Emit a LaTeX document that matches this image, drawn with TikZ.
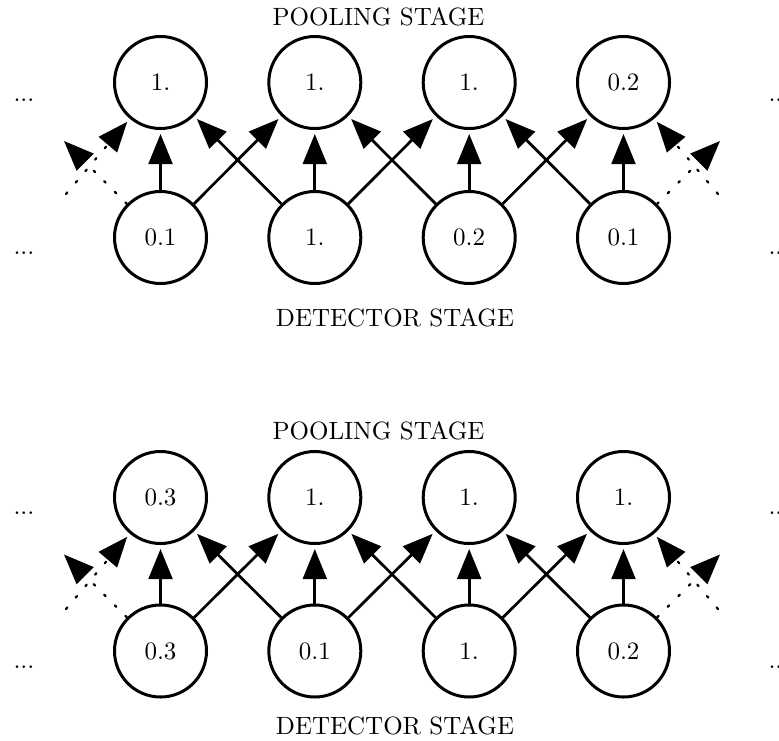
\documentclass[tikz,border=0pt]{standalone}
\usetikzlibrary{arrows.meta,calc}
\begin{document}
\begin{tikzpicture}[x=0.4pt,y=-0.4pt,
  unit/.style={circle,draw,line width=1.2pt,minimum size=36.8pt,inner sep=0pt},
  link/.style={line width=1.1pt,-{Triangle[length=12pt,width=9.5pt]},shorten >=1.6pt},
  dotlink/.style={line width=0.9pt,line cap=round,dash pattern=on 0.8pt off 5.2pt,-{Triangle[length=12pt,width=9.5pt]}},
  lbl/.style={inner sep=0pt},
  dots/.style={anchor=base west,inner sep=0pt}]
\useasboundingbox (0,0) rectangle (779,740);

% ---------- first diagram ----------
\node[lbl] (pool1) at (378.5,16.5) {POOLING STAGE};
\node[lbl] (det1) at (395,318) {DETECTOR STAGE};
\node[unit] (t1) at (160.5,82.5) {1.};
\node[unit] (t2) at (314.8,82.5) {1.};
\node[unit] (t3) at (469.2,82.5) {1.};
\node[unit] (t4) at (623.5,82.5) {0.2};
\node[unit] (b1) at (160.5,237.5) {0.1};
\node[unit] (b2) at (314.8,237.5) {1.};
\node[unit] (b3) at (469.2,237.5) {0.2};
\node[unit] (b4) at (623.5,237.5) {0.1};
\node[dots] (dtl1) at (13,101.3) {...};
\node[dots] (dbl1) at (13,254.3) {...};
\node[dots] (dtr1) at (768,101.3) {...};
\node[dots] (dbr1) at (768,254.3) {...};
\foreach \i in {1,...,4} {\draw[link] (b\i) -- (t\i);}
\foreach \i/\j in {1/2,2/3,3/4} {\draw[link] (b\i) -- (t\j); \draw[link] (b\j) -- (t\i);}
\coordinate (lA1) at ($(b1)+(-96.5,-96.5)$);
\coordinate (lB1) at ($(t1)+(-94.5,111.5)$);
\coordinate (rA1) at ($(b4)+(96.5,-96.5)$);
\coordinate (rB1) at ($(t4)+(94.5,111.5)$);
\draw[dotlink] (b1.135) -- (lA1);
\draw[dotlink,shorten >=1.6pt] (lB1) -- (t1);
\draw[dotlink] (b4.45) -- (rA1);
\draw[dotlink,shorten >=1.6pt] (rB1) -- (t4);

% ---------- second diagram ----------
\node[lbl] (pool2) at (378.5,431) {POOLING STAGE};
\node[lbl] (det2) at (395,726) {DETECTOR STAGE};
\node[unit] (u1) at (160.5,497.5) {0.3};
\node[unit] (u2) at (314.8,497.5) {1.};
\node[unit] (u3) at (469.2,497.5) {1.};
\node[unit] (u4) at (623.5,497.5) {1.};
\node[unit] (c1) at (160.5,651) {0.3};
\node[unit] (c2) at (314.8,651) {0.1};
\node[unit] (c3) at (469.2,651) {1.};
\node[unit] (c4) at (623.5,651) {0.2};
\node[dots] (dtl2) at (13,514.3) {...};
\node[dots] (dbl2) at (13,668.3) {...};
\node[dots] (dtr2) at (768,514.3) {...};
\node[dots] (dbr2) at (768,668.3) {...};
\foreach \i in {1,...,4} {\draw[link] (c\i) -- (u\i);}
\foreach \i/\j in {1/2,2/3,3/4} {\draw[link] (c\i) -- (u\j); \draw[link] (c\j) -- (u\i);}
\coordinate (lA2) at ($(c1)+(-96.5,-96.5)$);
\coordinate (lB2) at ($(u1)+(-94.5,111.5)$);
\coordinate (rA2) at ($(c4)+(96.5,-96.5)$);
\coordinate (rB2) at ($(u4)+(94.5,111.5)$);
\draw[dotlink] (c1.135) -- (lA2);
\draw[dotlink,shorten >=1.6pt] (lB2) -- (u1);
\draw[dotlink] (c4.45) -- (rA2);
\draw[dotlink,shorten >=1.6pt] (rB2) -- (u4);
\end{tikzpicture}
\end{document}
